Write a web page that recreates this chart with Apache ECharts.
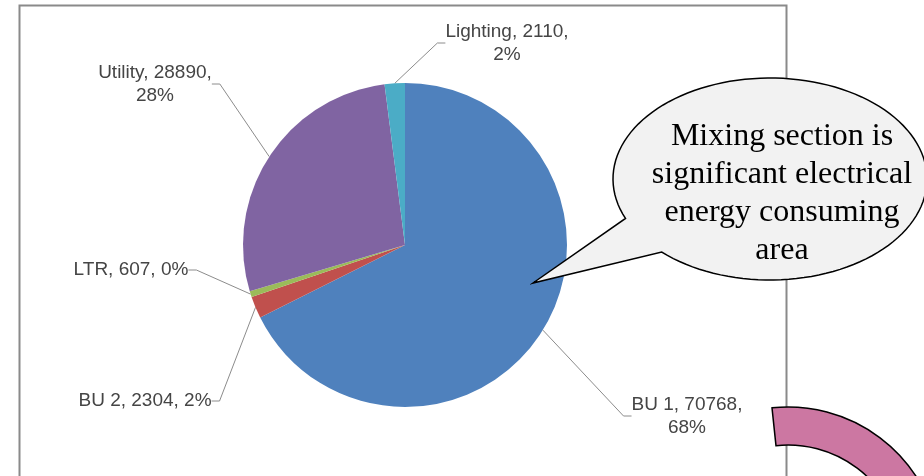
<!DOCTYPE html>
<html>
<head>
<meta charset="utf-8">
<script src="https://cdn.jsdelivr.net/npm/echarts@6/dist/echarts.min.js"></script>
<style>
  html, body { margin: 0; padding: 0; background: #fff; }
  #main { width: 924px; height: 476px; }
</style>
</head>
<body>
<div id="main"></div>
<script>
// energy use per section
var categories = ['BU 1', 'BU 2', 'LTR', 'Utility', 'Lighting'];
var energyValues = [70768, 2304, 607, 28890, 2110];
var sliceColors = ['#4F81BD', '#C0504D', '#9BBB59', '#8064A2', '#4BACC6'];
// labels that break before the percentage
var wrapLabel = [true, false, false, true, true];
// where each label sits (centre of text block)
var labelPos = [[687, 416], [145, 401], [131, 270], [155, 84], [507, 43]];

var calloutText = 'Mixing section is\nsignificant electrical\nenergy consuming\narea';

var chartDom = document.getElementById('main');
var myChart = echarts.init(chartDom);

// callout bubble outline: ellipse with a tail
function bubblePoints() {
  var cx = 770, cy = 179, rx = 157, ry = 101;
  var a0 = 157 * Math.PI / 180, a1 = (133.6 + 360) * Math.PI / 180;
  var pts = [];
  var n = 120;
  for (var i = 0; i <= n; i++) {
    var t = a0 + (a1 - a0) * i / n;
    pts.push([cx + rx * Math.cos(t), cy + ry * Math.sin(t)]);
  }
  pts.push([533, 283]);
  return pts;
}

var option = {
  backgroundColor: '#fff',
  animation: false,
  graphic: [
    {
      type: 'rect',
      z: 0,
      shape: { x: 19.5, y: 5.5, width: 767, height: 520 },
      style: { fill: 'none', stroke: '#8a8a8a', lineWidth: 2 }
    },
    {
      type: 'polygon',
      z: 50,
      shape: { points: bubblePoints() },
      style: { fill: '#f2f2f2', stroke: '#000', lineWidth: 1.5 }
    },
    {
      type: 'text',
      z: 51,
      style: {
        text: calloutText,
        x: 782,
        y: 194,
        fill: '#000',
        fontSize: 32,
        fontFamily: '"Liberation Serif", "DejaVu Serif", serif',
        align: 'center',
        verticalAlign: 'middle',
        lineHeight: 38
      }
    },
    {
      type: 'sector',
      z: 50,
      shape: {
        cx: 788, cy: 560, r: 153, r0: 115,
        startAngle: -96 * Math.PI / 180,
        endAngle: -10 * Math.PI / 180,
        clockwise: true
      },
      style: { fill: '#CC77A2', stroke: '#000', lineWidth: 1.5 }
    }
  ],
  series: [
    {
      type: 'pie',
      center: [405, 245],
      radius: 162,
      startAngle: 90,
      clockwise: true,
      percentPrecision: 0,
      avoidLabelOverlap: false,
      emphasis: { disabled: true },
      data: categories.map(function (c, i) {
        return { name: c, value: energyValues[i], itemStyle: { color: sliceColors[i] } };
      }),
      label: {
        show: true,
        position: 'outside',
        color: '#454545',
        fontFamily: '"Liberation Sans", Arial, sans-serif',
        fontSize: 19,
        lineHeight: 23,
        align: 'center',
        formatter: function (p) {
          return p.name + ', ' + p.value + ',' + (wrapLabel[p.dataIndex] ? '\n' : ' ') + p.percent + '%';
        }
      },
      labelLine: {
        show: true,
        length: 10,
        length2: 8,
        lineStyle: { color: '#8c8c8c', width: 1 }
      },
      labelLayout: function (params) {
        var p = labelPos[params.dataIndex];
        return { x: p[0], y: p[1], align: 'center', verticalAlign: 'middle' };
      }
    }
  ]
};

option && myChart.setOption(option);
</script>
</body>
</html>
